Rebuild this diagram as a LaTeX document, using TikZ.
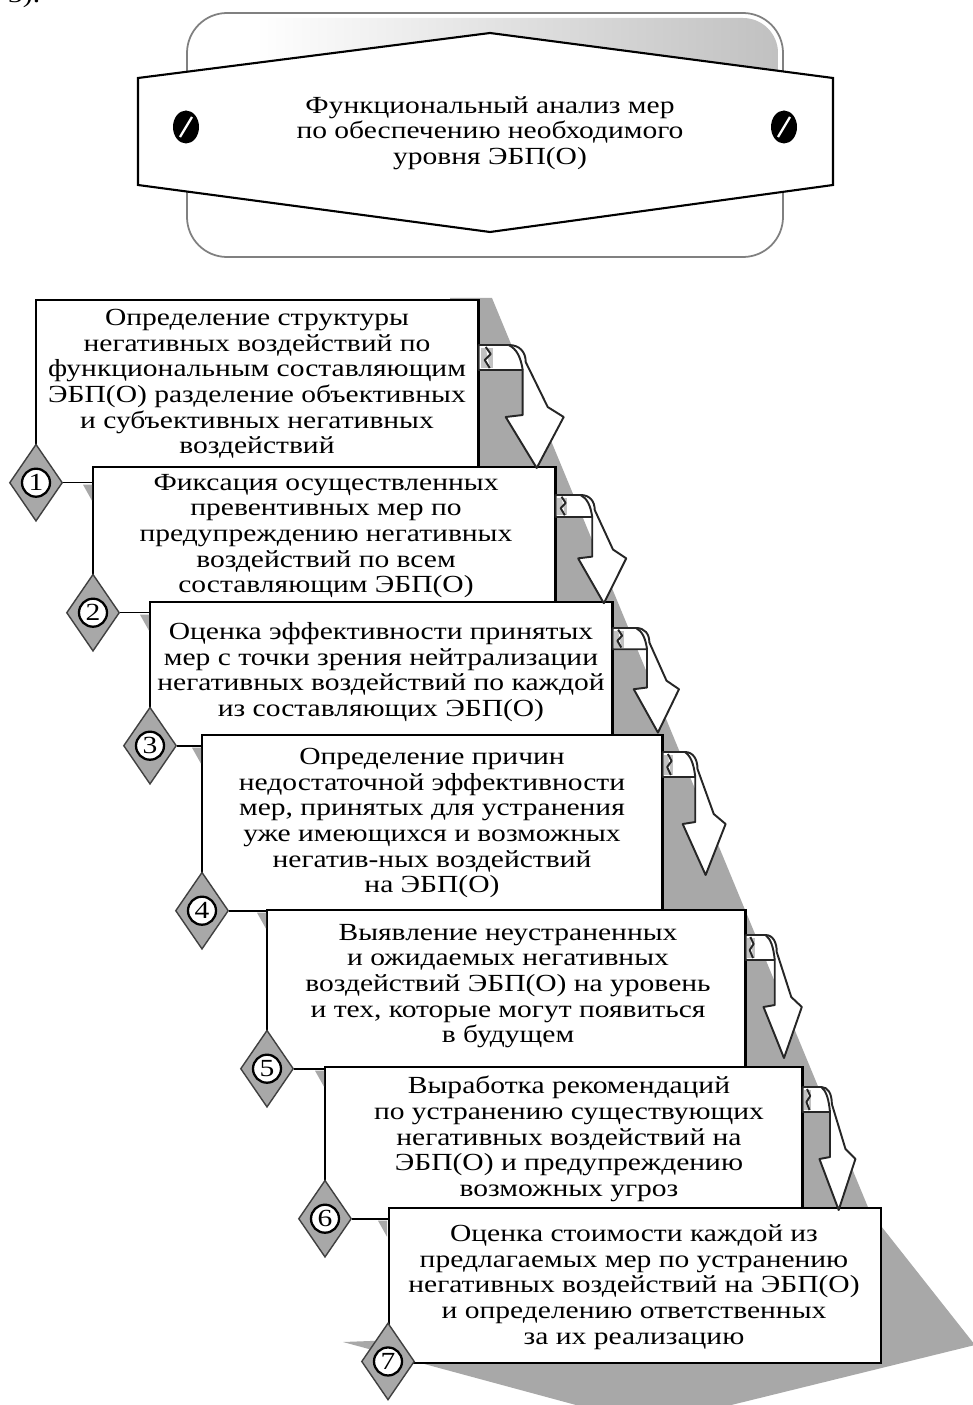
\documentclass[tikz,border=0pt]{standalone}
\usepackage{fontspec}
\setmainfont{Liberation Serif}[FakeStretch=1.2]
\usetikzlibrary{shapes.geometric, positioning, calc}

\definecolor{shadowgray}{RGB}{168,168,168}
\definecolor{framegray}{RGB}{128,128,128}

\newcommand{\bentarrow}[3]{%
  \draw[bentarr, shift={(#1)}, xscale=#2, yscale=#3]
    (0,0) -- (30,0) .. controls (41,0) and (47,7) .. (47,17) -- (69,62) -- (85,72)
    -- (58,123) -- (27,72) -- (44,70) -- (44,25) -- (0,25) -- cycle;
  \fill[shadowgray!70, shift={(#1)}, xscale=#2, yscale=#3]
    (2,3) -- (14,3) -- (14,23) -- (2,23) -- cycle;
  \draw[bentarr, shift={(#1)}, xscale=#2, yscale=#3]
    (7,2) -- (12,9) -- (6,15) -- (11,23);
  \draw[bentarr, shift={(#1)}, xscale=#2, yscale=#3]
    (30,0) .. controls (38,4) and (42,12) .. (44,25);
}

\begin{document}
\begin{tikzpicture}[x=0.2mm, y=-0.2mm,
    box/.style={fill=white, inner sep=0pt, anchor=north west},
    boxline/.style={line width=1.4pt},
    boxtext/.style={align=center, inner sep=0pt, font=\fontsize{14}{14.6}\selectfont},
    numdiamond/.style={diamond, minimum width=10.6mm, minimum height=15.4mm, inner sep=0pt,
      fill=shadowgray, draw=black!75, line width=0.8pt},
    numcircle/.style={circle, minimum size=5.6mm, inner sep=0pt, fill=white, draw=black,
      line width=1.3pt, font=\fontsize{14}{14}\selectfont},
    link/.style={line width=0.9pt},
    bentarr/.style={draw=black!85, fill=white, line width=1.1pt, line join=round},
    nick/.style={fill=shadowgray}]
  \useasboundingbox (0,0) rectangle (972,1405);

  % cut-off text of the page above
  \node[anchor=base west, font=\fontsize{14}{14}\selectfont] (frag) at (2,3) {3).};

  % banner
  \draw[framegray, line width=1pt, fill=white, rounded corners=8mm] (187,13) rectangle (783,257);
  \begin{scope}
    \clip[rounded corners=7mm] (192,18) rectangle (778,252);
    \shade[left color=white, right color=gray!50] (255,18) -- (790,18) -- (790,100) -- (490,45) -- (255,95) -- cycle;
  \end{scope}
  \draw[line width=1.2pt, fill=white] (138,78) -- (490,33) -- (833,78) -- (833,185) -- (490,232) -- (138,185) -- cycle;
  \fill (186,127) ellipse (2.6mm and 3.3mm);
  \fill (784,127) ellipse (2.6mm and 3.3mm);
  \draw[white, line width=1.3pt] (180,137) -- (192,117);
  \draw[white, line width=1.3pt] (778,137) -- (790,117);
  \node[boxtext] (title) at (490,133) {Функциональный анализ мер\\по обеспечению необходимого\\уровня ЭБП(О)};

  % grey backdrop arrow
  \fill[shadowgray] (478,298) -- (492,298) -- (870,1212) -- (975,1345) -- (650,1425) -- (343,1342)
    -- (450,1338) -- (450,298) -- cycle;

  % boxes
  \node[box, minimum width=442*0.2mm, minimum height=182*0.2mm] (b1) at (36,300) {};
  \draw[boxline] (b1.south west) -- (b1.north west) -- (b1.north east) -- (b1.south east);
  \node[boxtext] (t1) at (257,384) {Определение структуры\\негативных воздействий по\\функциональным составляющим\\ЭБП(О) разделение объективных\\и субъективных негативных\\воздействий};

  \node[box, minimum width=462*0.2mm, minimum height=145*0.2mm] (b2) at (93,467) {};
  \draw[boxline] (b2.south west) -- (b2.north west) -- (b2.north east) -- (b2.south east);
  \node[boxtext] (t2) at (326,536) {Фиксация осуществленных\\превентивных мер по\\предупреждению негативных\\воздействий по всем\\составляющим ЭБП(О)};

  \node[box, minimum width=462*0.2mm, minimum height=143*0.2mm] (b3) at (150,602) {};
  \draw[boxline] (b3.south west) -- (b3.north west) -- (b3.north east) -- (b3.south east);
  \node[boxtext] (t3) at (381,672) {Оценка эффективности принятых\\мер с точки зрения нейтрализации\\негативных воздействий по каждой\\из составляющих ЭБП(О)};

  \node[box, minimum width=460*0.2mm, minimum height=175*0.2mm] (b4) at (202,735) {};
  \draw[boxline] (b4.south west) -- (b4.north west) -- (b4.north east) -- (b4.south east);
  \node[boxtext] (t4) at (432,823) {Определение причин\\недостаточной эффективности\\мер, принятых для устранения\\уже имеющихся и возможных\\негатив-ных воздействий\\на ЭБП(О)};

  \node[box, minimum width=478*0.2mm, minimum height=158*0.2mm] (b5) at (267,910) {};
  \draw[boxline] (b5.south west) -- (b5.north west) -- (b5.north east) -- (b5.south east);
  \node[boxtext] (t5) at (508,986) {Выявление неустраненных\\и ожидаемых негативных\\воздействий ЭБП(О) на уровень\\и тех, которые могут появиться\\в будущем};

  \node[box, minimum width=477*0.2mm, minimum height=151*0.2mm] (b6) at (325,1067) {};
  \draw[boxline] (b6.south west) -- (b6.north west) -- (b6.north east) -- (b6.south east);
  \node[boxtext] (t6) at (569,1139) {Выработка рекомендаций\\по устранению существующих\\негативных воздействий на\\ЭБП(О) и предупреждению\\возможных угроз};

  \node[box, minimum width=492*0.2mm, minimum height=155*0.2mm, draw, boxline] (b7) at (388,1207) {};
  \node[boxtext] (t7) at (634,1287) {Оценка стоимости каждой из\\предлагаемых мер по устранению\\негативных воздействий на ЭБП(О)\\и определению ответственных\\за их реализацию};

  % bent arrows between the boxes
  \bentarrow{$(b1.north east)+(0,45)$}{1}{1}
  \bentarrow{$(b2.north east)+(0,28)$}{0.83}{0.88}
  \bentarrow{$(b3.north east)+(0,26)$}{0.78}{0.85}
  \bentarrow{$(b4.north east)+(0,17)$}{0.74}{1}
  \bentarrow{$(b5.north east)+(0,25)$}{0.66}{1}
  \bentarrow{$(b6.north east)+(0,20)$}{0.62}{1}

  % numbered diamonds and links
  \foreach \i/\j in {1/2, 2/3, 3/4, 4/5, 5/6, 6/7} {
    \node[numdiamond] (d\i) at (b\i.south west) {};
    \fill[nick] ($(d\i.east -| b\j.west)+(-10,2)$) -- ++(9,0) -- ++(0,16) -- cycle;
    \draw[link] (d\i.east) -- (d\i.east -| b\j.west);
    \node[numcircle] (n\i) at (d\i) {\i};
  }
  \node[numdiamond] (d7) at ($(b7.south west)+(0,-3)$) {};
  \node[numcircle] (n7) at (d7) {7};
\end{tikzpicture}
\end{document}
